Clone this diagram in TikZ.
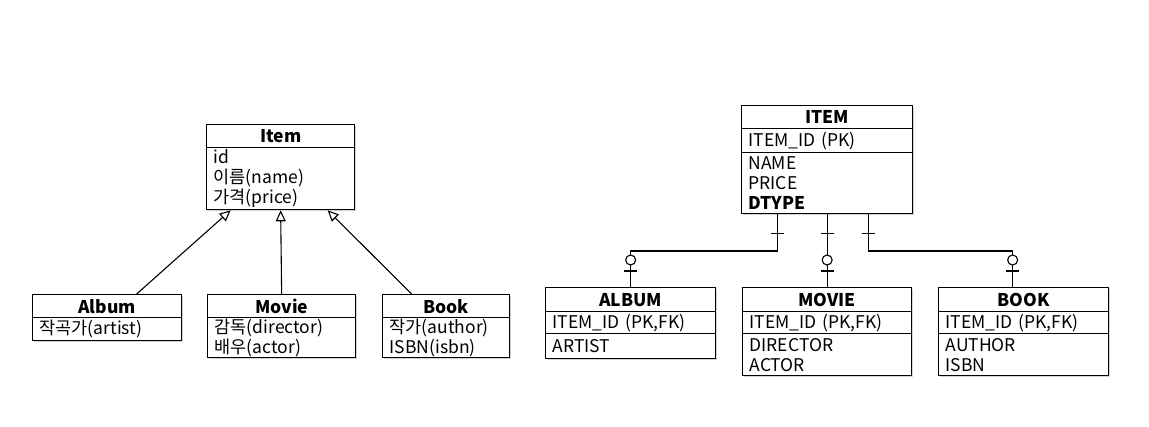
\documentclass[tikz,border=0pt]{standalone}
\usepackage{fontspec}
\setmainfont{Noto Sans CJK KR}
\usetikzlibrary{arrows.meta,shadows,decorations.markings}

\begin{document}
\begin{tikzpicture}[x=1pt,y=-1pt]

\useasboundingbox (0,0) rectangle (1149,427);

% Box parts
\tikzstyle{part}=[draw, line width=1.3pt, fill=white, anchor=north west, inner xsep=7pt, inner ysep=0pt,
  font=\fontsize{17.5}{20}\selectfont, drop shadow={shadow xshift=1pt, shadow yshift=-1.5pt, opacity=0.35}]
\tikzstyle{head}=[part, align=center, font=\fontsize{17.5}{20}\selectfont\bfseries]
\tikzstyle{rows}=[part, align=left]

% Links
\tikzstyle{inherit}=[line width=1.1pt, -{Triangle[open, length=11pt, width=10pt]}]
\tikzstyle{erlink}=[line width=1.1pt, postaction={decorate}, decoration={markings,
  mark=at position 19pt with {\draw[line width=1.1pt] (0,-6.5pt) -- (0,6.5pt);},
  mark=at position -27pt with {\draw[line width=1.1pt, fill=white] (0,0) circle (5pt);},
  mark=at position -16pt with {\draw[line width=1.1pt] (0,-6.5pt) -- (0,6.5pt);}}]

% Class diagram
\node[head, text width=134pt, minimum height=23pt] (itemhead) at (206,124) {Item};
\node[rows, text width=134pt, minimum height=62pt] (itembody) at (206,147) {id\\이름(name)\\가격(price)};

\node[head, text width=135pt, minimum height=23pt] (albumhead) at (32,294) {Album};
\node[rows, text width=135pt, minimum height=23pt] (albumbody) at (32,317) {작곡가(artist)};

\node[head, text width=134pt, minimum height=23pt] (moviehead) at (207,294) {Movie};
\node[rows, text width=134pt, minimum height=40pt] (moviebody) at (207,317) {감독(director)\\배우(actor)};

\node[head, text width=113pt, minimum height=23pt] (bookhead) at (382,294) {Book};
\node[rows, text width=113pt, minimum height=40pt] (bookbody) at (382,317) {작가(author)\\ISBN(isbn)};

\draw[inherit] ([xshift=29.5pt]albumhead.north) -- ([xshift=-50pt]itembody.south);
\draw[inherit] (moviehead.north) -- (itembody.south);
\draw[inherit] ([xshift=-34.5pt]bookhead.north) -- ([xshift=47pt]itembody.south);

% Tables
\node[head, text width=157pt, minimum height=23pt] (titemhead) at (741,105) {ITEM};
\node[rows, text width=157pt, minimum height=24pt] (titemkey) at (741,128) {ITEM\_ID (PK)};
\node[rows, text width=157pt, minimum height=61pt] (titemcols) at (741,152) {NAME\\PRICE\\\textbf{DTYPE}};

\node[head, text width=156pt, minimum height=24pt] (talbumhead) at (545,287) {ALBUM};
\node[rows, text width=156pt, minimum height=22pt] (talbumkey) at (545,311) {ITEM\_ID (PK,FK)};
\node[rows, text width=156pt, minimum height=25pt] (talbumcols) at (545,333) {ARTIST};

\node[head, text width=155pt, minimum height=24pt] (tmoviehead) at (742,287) {MOVIE};
\node[rows, text width=155pt, minimum height=22pt] (tmoviekey) at (742,311) {ITEM\_ID (PK,FK)};
\node[rows, text width=155pt, minimum height=42pt] (tmoviecols) at (742,333) {DIRECTOR\\ACTOR};

\node[head, text width=156pt, minimum height=24pt] (tbookhead) at (938,287) {BOOK};
\node[rows, text width=156pt, minimum height=22pt] (tbookkey) at (938,311) {ITEM\_ID (PK,FK)};
\node[rows, text width=156pt, minimum height=42pt] (tbookcols) at (938,333) {AUTHOR\\ISBN};

\draw[erlink] ([xshift=-49.5pt]titemcols.south) |- ([yshift=36pt]talbumhead.north) -- (talbumhead.north);
\draw[erlink] (titemcols.south) -- (tmoviehead.north);
\draw[erlink] ([xshift=41.5pt]titemcols.south) |- ([xshift=-11pt,yshift=36pt]tbookhead.north) -- ([xshift=-11pt]tbookhead.north);

\end{tikzpicture}
\end{document}
